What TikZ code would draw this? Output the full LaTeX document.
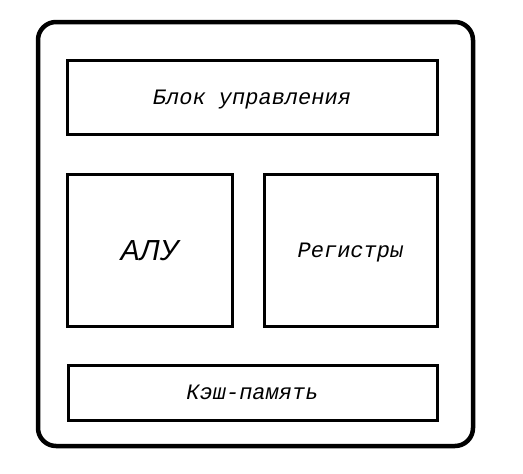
\documentclass[tikz,border=0pt]{standalone}
\usepackage{fontspec}
\setmonofont{Liberation Mono}
\newfontfamily\alufont{Liberation Sans}
\tikzset{
  unitbox/.style={draw, line width=3pt, inner sep=0pt, text height=14.5pt, text depth=0pt,
    font=\ttfamily\itshape\fontsize{22}{24}\selectfont},
  cpubox/.style={draw, line width=4.5pt, rounded corners=18pt, inner sep=0pt}
}
\begin{document}
\begin{tikzpicture}[x=1pt,y=-1pt]
  \useasboundingbox (0,0) rectangle (523,474);
  \node[cpubox, minimum width=435pt, minimum height=424pt] (cpu) at (255.5,234) {};
  \node[unitbox, minimum width=370pt, minimum height=74pt, text depth=-5pt] (ctrl) at (252,97) {Блок управления};
  \node[unitbox, minimum width=165pt, minimum height=152pt, text height=20.8pt,
    font=\alufont\itshape\fontsize{29}{32}\selectfont] (alu) at (149.5,250) {АЛУ};
  \node[unitbox, minimum width=173pt, minimum height=152pt] (regs) at (350.5,250) {Регистры};
  \node[unitbox, minimum width=369pt, minimum height=55pt, text depth=-2pt] (cache) at (252.5,392.5) {Кэш-память};
\end{tikzpicture}
\end{document}
